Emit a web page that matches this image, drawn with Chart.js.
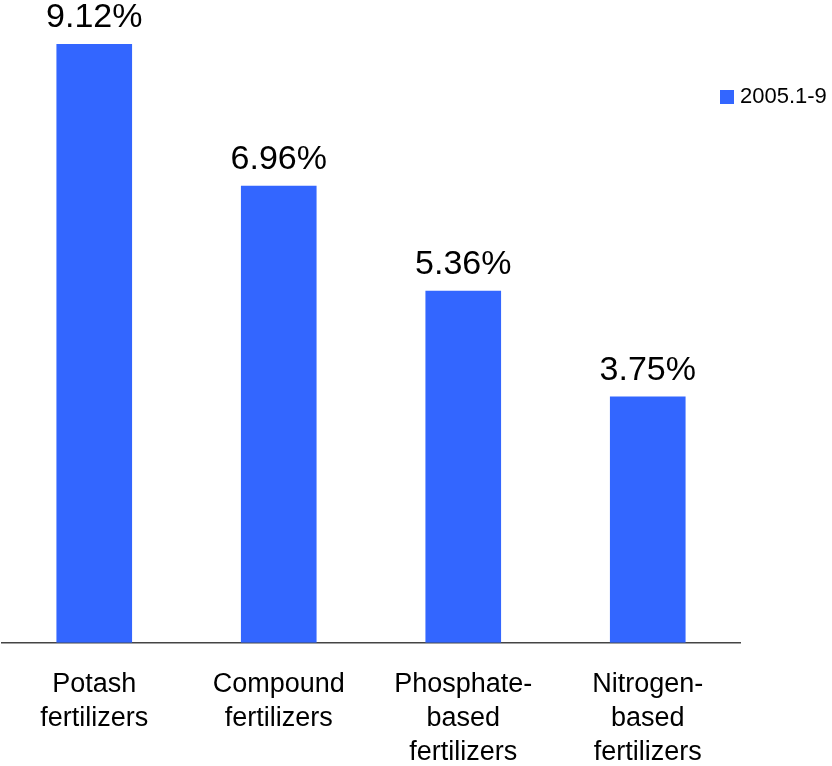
<!DOCTYPE html>
<html>
<head>
<meta charset="utf-8">
<script src="https://cdn.jsdelivr.net/npm/chart.js@4"></script>
<style>
  html, body { margin: 0; padding: 0; background: #fff; }
  #wrap { width: 832px; height: 766px; position: relative; }
</style>
</head>
<body>
<div id="wrap"><canvas id="growthChart"></canvas></div>
<script>
const categories = [
  ['Potash', 'fertilizers'],
  ['Compound', 'fertilizers'],
  ['Phosphate-', 'based', 'fertilizers'],
  ['Nitrogen-', 'based', 'fertilizers']
];
const seriesName = '2005.1-9';
const growthValues = [9.12, 6.96, 5.36, 3.75];

const FONT = "'Liberation Sans', Arial, sans-serif";
const BAR_COLOR = '#3366FF';

// value labels above each bar
const valueLabels = {
  id: 'valueLabels',
  afterDatasetsDraw(chart) {
    const ctx = chart.ctx;
    const meta = chart.getDatasetMeta(0);
    ctx.save();
    ctx.font = '34px ' + FONT;
    ctx.fillStyle = '#000';
    ctx.textAlign = 'center';
    ctx.textBaseline = 'alphabetic';
    meta.data.forEach((bar, i) => {
      ctx.fillText(growthValues[i].toFixed(2) + '%', bar.x, bar.y - 17);
    });
    ctx.restore();
  }
};

// small legend in the top right corner
const cornerLegend = {
  id: 'cornerLegend',
  afterDraw(chart) {
    const ctx = chart.ctx;
    const ds = chart.data.datasets[0];
    ctx.save();
    ctx.fillStyle = ds.backgroundColor;
    ctx.fillRect(720, 90, 14, 14);
    ctx.font = '22px ' + FONT;
    ctx.fillStyle = '#000';
    ctx.textBaseline = 'middle';
    ctx.fillText(ds.label, 740, 97);
    ctx.restore();
  }
};

new Chart(document.getElementById('growthChart'), {
  type: 'bar',
  data: {
    labels: categories,
    datasets: [{
      label: seriesName,
      data: growthValues,
      backgroundColor: BAR_COLOR,
      barPercentage: 0.41,
      categoryPercentage: 1
    }]
  },
  options: {
    responsive: true,
    maintainAspectRatio: false,
    animation: false,
    layout: { padding: { top: 44, left: 2, right: 92, bottom: -20 } },
    plugins: {
      legend: { display: false },
      tooltip: { enabled: false }
    },
    scales: {
      x: {
        grid: { display: false },
        border: { display: true, color: '#444', width: 1.5 },
        ticks: {
          color: '#000',
          padding: 17,
          maxRotation: 0,
          font: { family: FONT, size: 27, lineHeight: 1.25 }
        }
      },
      y: {
        display: false,
        min: 0,
        max: 9.12
      }
    }
  },
  plugins: [valueLabels, cornerLegend]
});
</script>
</body>
</html>
